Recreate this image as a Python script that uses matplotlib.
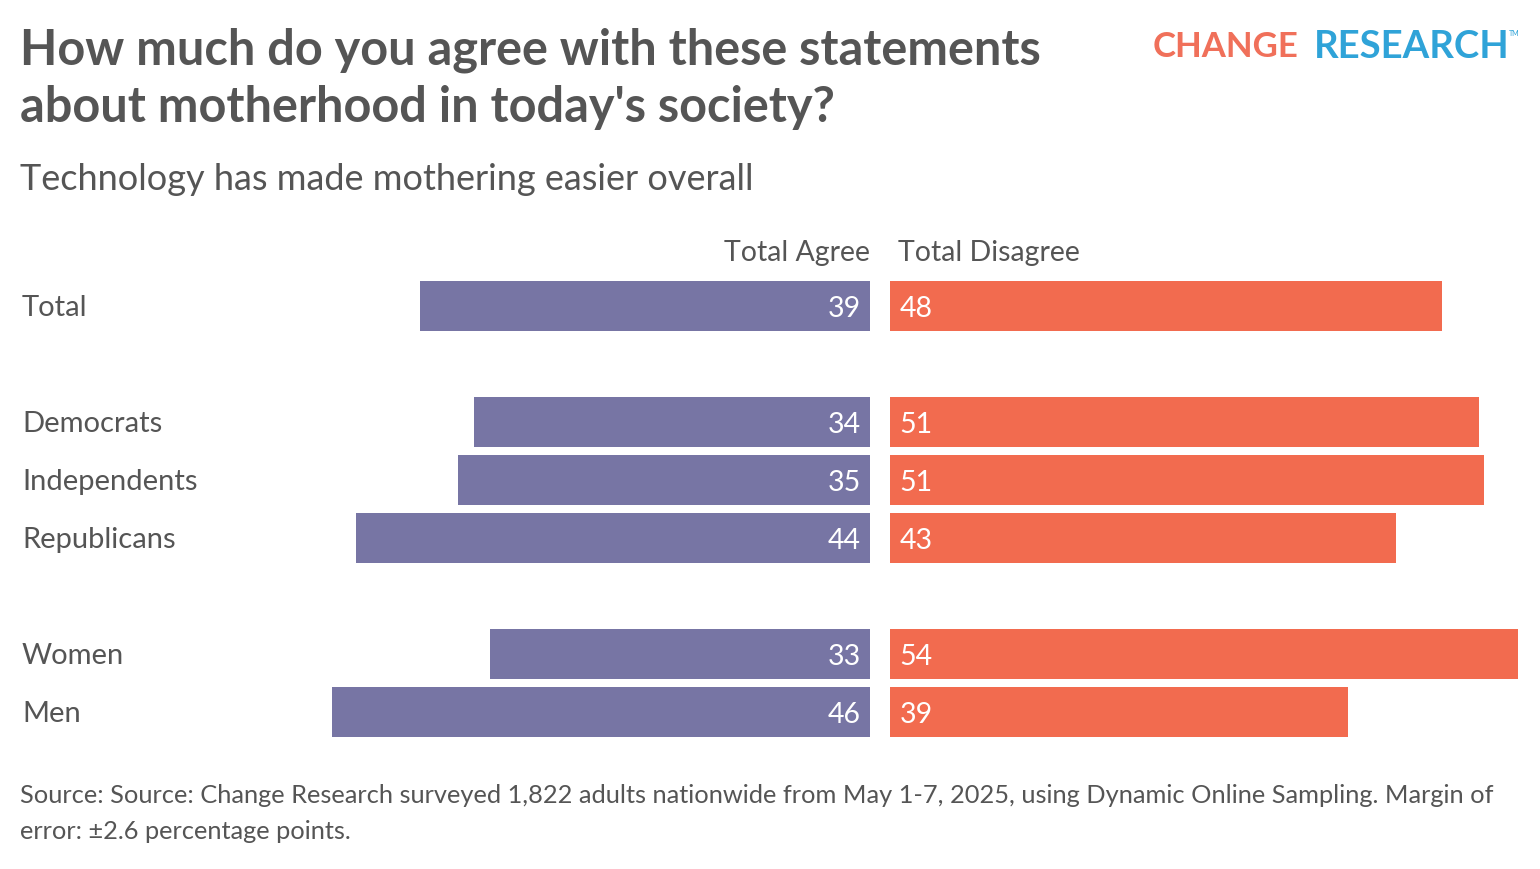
import matplotlib.pyplot as plt

# data
groups = ["Total", "Democrats", "Independents", "Republicans", "Women", "Men"]
rows = [0, 2, 3, 4, 6, 7]
agree = [38.6, 34.0, 35.4, 44.1, 32.6, 46.2]
disagree = [47.4, 50.6, 51.0, 43.4, 53.9, 39.3]
agree_labels = ["39", "34", "35", "44", "33", "46"]
disagree_labels = ["48", "51", "51", "43", "54", "39"]

PURPLE = "#7775A4"
ORANGE = "#F26B4F"
TXT = "#555555"

plt.rcParams['font.family'] = ['Lato', 'DejaVu Sans']

W, H = 1540, 870
fig = plt.figure(figsize=(W / 100, H / 100), dpi=100)

def px_axes(x0, x1, y0, y1):
    return fig.add_axes([x0 / W, 1 - y1 / H, (x1 - x0) / W, (y1 - y0) / H])

def ftext(x, y, s, **kw):
    return fig.text(x / W, 1 - y / H, s, **kw)

scale = 11.65  # px per point
y_top, y_bot = 278, 742

axL = px_axes(300, 870, y_top, y_bot)
axR = px_axes(890, 1530, y_top, y_bot)

axL.barh(rows, agree, height=0.862, color=PURPLE)
axL.set_xlim(570 / scale, 0)
axR.barh(rows, disagree, height=0.862, color=ORANGE)
axR.set_xlim(0, 640 / scale)

for ax in (axL, axR):
    ax.set_ylim(7.5, -0.5)
    ax.axis('off')

for r, lab in zip(rows, agree_labels):
    axL.text(0.8, r + 0.03, lab, ha='right', va='center', color='white', fontsize=20.5)
for r, lab in zip(rows, disagree_labels):
    axR.text(0.8, r + 0.03, lab, ha='left', va='center', color='white', fontsize=20.5)

# row labels
for r, g in zip(rows, groups):
    ftext(22, 308 + r * 58, g, ha='left', va='center', color=TXT, fontsize=21)

ftext(870, 253, "Total Agree", ha='right', va='center', color=TXT, fontsize=20.5)
ftext(898, 253, "Total Disagree", ha='left', va='center', color=TXT, fontsize=20.5)

ftext(20, 50, "How much do you agree with these statements",
      ha='left', va='center', color=TXT, fontsize=35, fontweight='bold')
ftext(20, 107, "about motherhood in today's society?",
      ha='left', va='center', color=TXT, fontsize=35, fontweight='bold')
ftext(20, 179, "Technology has made mothering easier overall",
      ha='left', va='center', color=TXT, fontsize=26)

# logo
ftext(1153, 47, "CHANGE", ha='left', va='center',
      color="#F0705A", fontsize=25, fontweight='bold')
ftext(1314, 47, "RESEARCH", ha='left', va='center',
      color="#2FA3D8", fontsize=27.5, fontweight='bold')
ftext(1509, 33, "TM", ha='left', va='center', color="#2FA3D8", fontsize=5)

ftext(20, 796,
      "Source: Source: Change Research surveyed 1,822 adults nationwide from May 1-7, 2025, "
      "using Dynamic Online Sampling. Margin of",
      ha='left', va='center', color=TXT, fontsize=18.3)
ftext(20, 832, "error: \u00b12.6 percentage points.",
      ha='left', va='center', color=TXT, fontsize=18.3)

fig.savefig("out.png", dpi=100, facecolor='white')
